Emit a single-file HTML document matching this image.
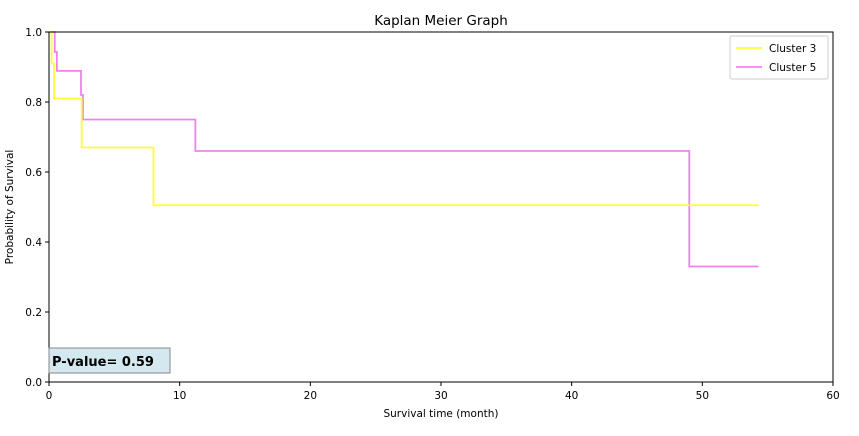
<!DOCTYPE html>
<html><head><meta charset="utf-8"><style>
body{margin:0;background:#fff;font-family:"Liberation Sans","DejaVu Sans",sans-serif}
</style></head><body>
<svg width="859" height="431" xmlns="http://www.w3.org/2000/svg" font-family="DejaVu Sans, Liberation Sans, sans-serif">
<text x="441" y="25" font-size="13.5" text-anchor="middle">Kaplan Meier Graph</text>
<g id="plot"></g>
<rect x="49" y="32" width="784" height="350" fill="none" stroke="#000" stroke-width="1"/>
<g id="xt" font-size="10.5" text-anchor="middle"></g>
<g id="yt" font-size="10.5" text-anchor="end"></g>
<text x="441" y="417" font-size="10.5" text-anchor="middle">Survival time (month)</text>
<text transform="translate(13,207) rotate(-90)" font-size="10.5" text-anchor="middle">Probability of Survival</text>
<g>
<rect x="730" y="36" width="98" height="43" fill="#fff" stroke="#ccc" rx="2"/>
<line x1="736" y1="48" x2="762" y2="48" stroke="#ffff33" stroke-width="1.8"/>
<text x="769" y="52" font-size="10.5">Cluster 3</text>
<line x1="736" y1="67" x2="762" y2="67" stroke="#ee82ee" stroke-width="1.8"/>
<text x="769" y="71" font-size="10.5">Cluster 5</text>
</g>
<g>
<rect x="49" y="348" width="121" height="25" fill="#d4e9ef" stroke="#888"/>
<text x="52" y="366" font-size="13" font-weight="bold">P-value= 0.59</text>
</g>
</svg>
<script>
const times3=[0,0.2,0.38,2.5,8,54.3];
const surv3=[1.0,0.91,0.81,0.67,0.505,0.505];
const times5=[0,0.44,0.6,2.45,2.6,11.2,49,54.3];
const surv5=[1.0,0.943,0.889,0.82,0.75,0.66,0.33,0.33];
const xTicks=[0,10,20,30,40,50,60];
const yTicks=[0,0.2,0.4,0.6,0.8,1.0];
const X=t=>49+t*784/60, Y=s=>382-s*350;
const ns="http://www.w3.org/2000/svg";
function step(ts,ss,color,name){
  let d="M"+X(ts[0])+","+Y(ss[0]);
  for(let i=1;i<ts.length;i++){d+=" H"+X(ts[i])+" V"+Y(ss[i]);}
  const p=document.createElementNS(ns,"path");
  p.setAttribute("d",d);p.setAttribute("fill","none");p.setAttribute("stroke",color);p.setAttribute("stroke-width","1.8");
  
  
  document.getElementById("plot").appendChild(p);
}
step(times5,surv5,"#ee82ee","cluster-5-curve");
step(times3,surv3,"#ffff33","cluster-3-curve");
const xt=document.getElementById("xt");
xTicks.forEach(v=>{
  const l=document.createElementNS(ns,"line");
  l.setAttribute("x1",X(v));l.setAttribute("x2",X(v));l.setAttribute("y1",382);l.setAttribute("y2",386);l.setAttribute("stroke","#000");
  
  
  xt.appendChild(l);
  const t=document.createElementNS(ns,"text");
  t.setAttribute("x",X(v));t.setAttribute("y",399);t.textContent=v;
  
  
  xt.appendChild(t);
});
const yt=document.getElementById("yt");
yTicks.forEach(v=>{
  const l=document.createElementNS(ns,"line");
  l.setAttribute("x1",45);l.setAttribute("x2",49);l.setAttribute("y1",Y(v));l.setAttribute("y2",Y(v));l.setAttribute("stroke","#000");
  
  
  yt.appendChild(l);
  const t=document.createElementNS(ns,"text");
  t.setAttribute("x",42);t.setAttribute("y",Y(v)+4);t.textContent=v.toFixed(1);
  
  
  yt.appendChild(t);
});
</script>
</body></html>
